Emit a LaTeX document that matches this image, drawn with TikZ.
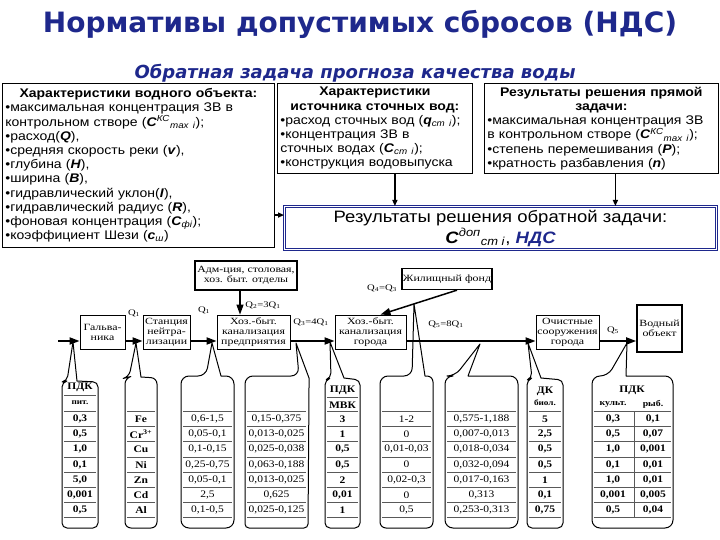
\documentclass[tikz,border=0pt]{standalone}
\usepackage{fontspec}
\setmainfont{Liberation Serif}
\newfontfamily\arialf[FakeStretch=1.12]{Liberation Sans}
\newfontfamily\headf{DejaVu Sans}
\newfontfamily\lowf[FakeStretch=1.25]{Liberation Serif}
\newfontfamily\cellf[FakeStretch=1.15]{Liberation Serif}
\usetikzlibrary{positioning, arrows.meta}

\definecolor{navy}{RGB}{30,40,140}

\newcommand\bi[1]{\textbf{\textit{#1}}}
\newcommand\rowlines[2]{\foreach \k in {0,...,7} \draw[rowline] (#1,411.4+15.2*\k) -- (#2,411.4+15.2*\k);}
\newcommand\colvals[4]{\foreach \v [count=\i] in {#3} \node[cell, #4] (#1-\i) at (#2,403.8+15.2*\i) {\v};}

\begin{document}
\begin{tikzpicture}
[
	x=1pt, y=-1pt,
	topbox/.style={draw, line width=0.8pt, anchor=north west, inner sep=3pt, align=left, font=\arialf\fontsize{12.5}{14.2}\selectfont},
	unit/.style={draw, line width=0.8pt, align=center, inner sep=1pt, font=\lowf\fontsize{9.5}{10}\selectfont},
	flow/.style={line width=1.8pt, -{Triangle[length=10pt,width=7pt]}},
	link/.style={line width=1.3pt, -{Triangle[length=6pt,width=5pt]}},
	qlabel/.style={font=\lowf\fontsize{8.5}{9}\selectfont, inner sep=0pt},
	cell/.style={font=\cellf\fontsize{10}{11}\selectfont, inner sep=0pt},
	bold/.style={font=\cellf\bfseries\fontsize{10}{11}\selectfont},
	bottleline/.style={line width=1pt, line join=round},
	rowline/.style={line width=0.7pt, black!65}
]
	\useasboundingbox (0,0) rectangle (720,540);

	\node[font=\headf\bfseries\fontsize{28}{30}\selectfont, text=navy] (title) at (360,24) {Нормативы допустимых сбросов (НДС)};
	\node[font=\headf\bfseries\itshape\fontsize{18}{20}\selectfont, text=navy] (subtitle) at (355,73) {Обратная задача прогноза качества воды};

	\node[topbox, text width=266pt, minimum height=164pt] (river) at (2,83) {{\centering\bfseries Характеристики водного объекта:\par}
		•максимальная концентрация ЗВ в\\
		контрольном створе (\bi{C}\textsuperscript{\textit{КС}}\textsubscript{\textit{max i}});\\
		•расход(\bi{Q}),\\
		•средняя скорость реки (\bi{v}),\\
		•глубина (\bi{H}),\\
		•ширина (\bi{B}),\\
		•гидравлический уклон(\bi{I}),\\
		•гидравлический радиус (\bi{R}),\\
		•фоновая концентрация (\bi{C}\textsubscript{\textit{фi}});\\
		•коэффициент Шези (\bi{c}\textsubscript{\textit{ш}})};
	\node[topbox, text width=189pt, minimum height=90pt] (source) at (277,83) {{\centering\bfseries Характеристики\\источника сточных вод:\par}
		•расход сточных вод (\bi{q}\textsubscript{\textit{ст i}});\\
		•концентрация ЗВ в\\
		сточных водах (\bi{C}\textsubscript{\textit{ст i}});\\
		•конструкция водовыпуска};
	\node[topbox, text width=228pt, minimum height=90pt] (direct) at (484,83) {{\centering\bfseries Результаты решения прямой\\задачи:\par}
		•максимальная концентрация ЗВ\\
		в контрольном створе (\bi{C}\textsuperscript{\textit{КС}}\textsubscript{\textit{max i}});\\
		•степень перемешивания (\bi{P});\\
		•кратность разбавления (\bi{n})};

	\node[draw=navy, line width=0.9pt, double=white, double distance=1.6pt, anchor=north west, minimum width=432pt, minimum height=43pt, align=center, font=\arialf\fontsize{16.5}{21}\selectfont] (result) at (284,206) {Результаты решения обратной задачи:\\\bi{C}\textsuperscript{\textit{доп}}\textsubscript{\textit{ст i}}, {\bfseries\itshape\color{navy}НДС}};

	\coordinate (lnk) at ([yshift=13pt]result.west);
	\draw[link] (river.east |- lnk) -- (lnk);
	\draw[link] ([xshift=20pt]source.south) -- ([xshift=20pt]source.south |- result.north);
	\draw[link] ([xshift=14pt]direct.south) -- ([xshift=14pt]direct.south |- result.north);

	\node[unit, minimum width=45pt, minimum height=34pt] (galv) at (102.5,332) {Гальва-\\ника};
	\node[unit, minimum width=47pt, minimum height=34pt] (neutr) at (166.5,332) {Станция\\нейтра-\\лизации};
	\node[unit, minimum width=73pt, minimum height=34pt] (plantsew) at (253.5,332) {Хоз.-быт.\\канализация\\предприятия};
	\node[unit, line width=1.3pt, minimum width=102pt, minimum height=29pt] (admin) at (246,275.5) {Адм-ция, столовая,\\хоз. быт. отделы};
	\node[unit, minimum width=71pt, minimum height=34pt] (citysew) at (370.5,332) {Хоз.-быт.\\канализация\\города};
	\node[unit, line width=1.3pt, minimum width=90pt, minimum height=21pt] (housing) at (447,279) {Жилищный фонд};
	\node[unit, minimum width=63pt, minimum height=34pt] (cleaner) at (567.5,332) {Очистные\\сооружения\\города};
	\node[unit, line width=1.6pt, minimum width=45pt, minimum height=47pt] (water) at (659.5,328.5) {Водный\\объект};

	\coordinate (inlet) at (58,341);
	\draw[flow] (inlet) -- (galv.west |- inlet);
	\draw[flow] (galv.east |- inlet) -- (neutr.west |- inlet);
	\draw[flow] (neutr.east |- inlet) -- (plantsew.west |- inlet);
	\draw[flow] (plantsew.east |- inlet) -- (citysew.west |- inlet);
	\draw[flow] (citysew.east |- inlet) -- (cleaner.west |- inlet);
	\draw[flow] (cleaner.east |- inlet) -- (water.west |- inlet);
	\draw[flow, line width=1.2pt] ([xshift=-6pt]admin.south) -- ([xshift=-6pt]admin.south |- plantsew.north);
	\draw[flow, line width=1.5pt] ([xshift=10pt]housing.south) -- ([xshift=10pt]citysew.north);

	\node[qlabel] (q1a) at (134,313) {Q\textsubscript{1}};
	\node[qlabel] (q1b) at (204,310) {Q\textsubscript{1}};
	\node[qlabel] (q2) at (263,305) {Q\textsubscript{2}=3Q\textsubscript{1}};
	\node[qlabel] (q3) at (311,322) {Q\textsubscript{3}=4Q\textsubscript{1}};
	\node[qlabel] (q4) at (382,288) {Q\textsubscript{4}=Q\textsubscript{3}};
	\node[qlabel] (q5) at (446,324) {Q\textsubscript{5}=8Q\textsubscript{1}};
	\node[qlabel] (q5b) at (613,330) {Q\textsubscript{5}};

	\draw[bottleline] (62,528) [rounded corners=5pt] -- (62,382) -- (67,381) [sharp corners] -- (73,342) -- (77,381) [rounded corners=5pt] -- (98,382) -- (98,528) -- cycle;
	\draw[bottleline] (125,528) [rounded corners=6pt] -- (125,378) -- (129,377) [sharp corners] -- (136,343) -- (141,377) [rounded corners=6pt] -- (157,378) -- (157,528) -- cycle;
	\draw[bottleline] (181,528) [rounded corners=8pt] -- (181,376) -- (206,376) [sharp corners] -- (212,343) -- (221,376) [rounded corners=8pt] -- (234,376) -- (234,528) -- cycle;
	\draw[bottleline] (245,528) [rounded corners=8pt] -- (245,376) -- (299,376) [sharp corners] -- (296,343) -- (309,378) [rounded corners=4pt] -- (309,390) -- (308,528) -- cycle;
	\draw[bottleline] (325,528) [rounded corners=5pt] -- (325,380) -- (331,378) [sharp corners] -- (330,342) -- (344,378) [rounded corners=5pt] -- (360,380) -- (360,528) -- cycle;
	\draw[bottleline] (380,528) [rounded corners=8pt] -- (380,376) -- (412,376) [sharp corners] -- (414,304) -- (425,376) [rounded corners=6pt] -- (433,376) -- (433,528) -- cycle;
	\draw[bottleline] (445,528) [rounded corners=8pt] -- (445,376) -- (455,376) [sharp corners] -- (480,344) -- (468,376) [rounded corners=8pt] -- (518,376) -- (518,528) -- cycle;
	\draw[bottleline] (527,528) [rounded corners=5pt] -- (527,380) -- (532,378) [sharp corners] -- (528,343) -- (541,378) [rounded corners=5pt] -- (563,380) -- (563,528) -- cycle;
	\draw[bottleline] (592,528) [rounded corners=8pt] -- (592,376) -- (608,376) [sharp corners] -- (627,343) -- (626,376) [rounded corners=8pt] -- (673,376) -- (673,528) -- cycle;

	\rowlines{64}{96}
	\draw[rowline] (64,395) -- (96,395);
	\rowlines{127}{155}
	\rowlines{183}{232}
	\rowlines{247}{306}
	\rowlines{327}{358}
	\draw[rowline] (327,397) -- (358,397);
	\rowlines{382}{431}
	\rowlines{447}{516}
	\rowlines{529}{561}
	\rowlines{594}{671}
	\draw[rowline] (634,411.4) -- (634,517.8);

	\node[bold] (pitH) at (80,387) {ПДК};
	\node[bold, font=\cellf\bfseries\fontsize{8}{9}\selectfont] (pitS) at (80,403) {пит.};
	\node[bold] (mvkH) at (342.5,390) {ПДК};
	\node[bold] (mvkS) at (342.5,405) {МВК};
	\node[bold] (bioH) at (545,391) {ДК};
	\node[bold, font=\cellf\bfseries\fontsize{8}{9}\selectfont] (bioS) at (545,403) {биол.};
	\node[bold] (fishH) at (632,390) {ПДК};
	\node[bold, font=\cellf\bfseries\fontsize{8.5}{9}\selectfont] (cultS) at (613,404) {культ.};
	\node[bold, font=\cellf\bfseries\fontsize{8.5}{9}\selectfont] (fishS) at (653,404) {рыб.};

	\colvals{pit}{80}{{0,3},{0,5},{1,0},{0,1},{5,0},{0,001},{0,5}}{bold}
	\colvals{elem}{141}{Fe,Cr\textsuperscript{3+},Cu,Ni,Zn,Cd,Al}{bold}
	\colvals{galvout}{207.5}{{0,6-1,5},{0,05-0,1},{0,1-0,15},{0,25-0,75},{0,05-0,1},{2,5},{0,1-0,5}}{}
	\colvals{plantout}{276.5}{{0,15-0,375},{0,013-0,025},{0,025-0,038},{0,063-0,188},{0,013-0,025},{0,625},{0,025-0,125}}{}
	\colvals{mvk}{342.5}{3,1,{0,5},{0,5},2,{0,01},1}{bold}
	\colvals{house}{406.5}{{1-2},0,{0,01-0,03},0,{0,02-0,3},0,{0,5}}{}
	\colvals{cityout}{481.5}{{0,575-1,188},{0,007-0,013},{0,018-0,034},{0,032-0,094},{0,017-0,163},{0,313},{0,253-0,313}}{}
	\colvals{bio}{545}{5,{2,5},{0,5},{0,5},1,{0,1},{0,75}}{bold}
	\colvals{cult}{613}{{0,3},{0,5},{1,0},{0,1},{1,0},{0,001},{0,5}}{bold}
	\colvals{fish}{653}{{0,1},{0,07},{0,001},{0,01},{0,01},{0,005},{0,04}}{bold}
\end{tikzpicture}
\end{document}
